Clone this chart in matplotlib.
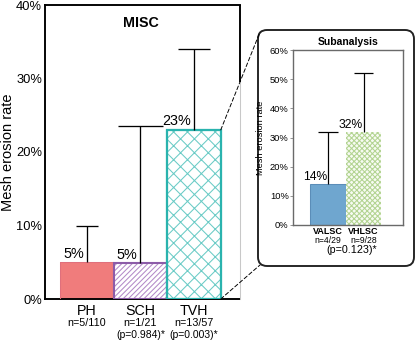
import matplotlib
matplotlib.use("Agg")
import matplotlib.pyplot as plt
from matplotlib.patches import FancyBboxPatch, ConnectionPatch
from matplotlib.ticker import FuncFormatter, MultipleLocator
import numpy as np

# ---------------- data ----------------
main_cats = ["PH", "SCH", "TVH"]
main_vals = [0.05, 0.049, 0.23]
main_err_top = [0.10, 0.235, 0.34]
main_val_labels = ["5%", "5%", "23%"]
main_n = ["n=5/110", "n=1/21", "n=13/57"]
main_p = ["", "(p=0.984)*", "(p=0.003)*"]

sub_cats = ["VALSC", "VHLSC"]
sub_vals = [0.14, 0.32]
sub_err_top = [0.32, 0.52]
sub_val_labels = ["14%", "32%"]
sub_n = ["n=4/29", "n=9/28"]
sub_p = "(p=0.123)*"

# ---------------- style ----------------
DPI = 125
plt.rcParams['font.family'] = ['Liberation Sans', 'DejaVu Sans']
plt.rcParams['hatch.linewidth'] = 0.6

fig = plt.figure(figsize=(416 / DPI, 340 / DPI), dpi=DPI)

pct = FuncFormatter(lambda v, p: f"{v*100:.0f}%")

# ---------------- main axes ----------------
ax = fig.add_axes([45 / 416, 41 / 340, 195 / 416, 294 / 340])
x = np.arange(len(main_cats))
face = ['#F07C7C', 'white', 'white']
hatch_col = ['#F07C7C', '#B38AC8', '#6ACBC6']
hatches = ['', '////////', 'xxx']
edge_col = ['#E0707C', '#8C5CA8', '#2AB3AE']
edge_lw = [0.6, 1.2, 1.3]

bars = ax.bar(x, main_vals, width=1.0, color=face, edgecolor=hatch_col, linewidth=0, zorder=2)
for b, h in zip(bars, hatches):
    b.set_hatch(h)
edges = ax.bar(x, main_vals, width=1.0, fill=False, edgecolor=edge_col, zorder=3)
for b, lw in zip(edges, edge_lw):
    b.set_linewidth(lw)

cap_w = [0.41, 0.83, 0.6]
ax.vlines(x, main_vals, main_err_top, color='black', lw=0.75, zorder=4)
ax.hlines(main_err_top, x - np.array(cap_w) / 2, x + np.array(cap_w) / 2,
          color='black', lw=0.75, zorder=4)

for xi, v, lab in zip(x, main_vals, main_val_labels):
    ax.text(xi - 0.06, v + 0.002, lab, ha='right', va='bottom', fontsize=8.3, zorder=5)

ax.set_xlim(-0.785, 2.86)
ax.set_ylim(0, 0.40)
ax.yaxis.set_major_locator(MultipleLocator(0.10))
ax.yaxis.set_major_formatter(pct)
ax.tick_params(axis='y', length=0, pad=1.7, labelsize=7.4)
ax.set_xticks([])
ax.set_ylabel("Mesh erosion rate", fontsize=8.4, labelpad=0.5)
for s in ['left', 'bottom', 'top']:
    ax.spines[s].set_linewidth(1.1)
ax.spines['right'].set_visible(False)
# right border: dark upper part, faint lower part
ax.plot([1, 1], [0.738, 1], transform=ax.transAxes, color='black', lw=1.1,
        clip_on=False, solid_capstyle='butt', zorder=6)
ax.plot([1, 1], [0, 0.738], transform=ax.transAxes, color='#c8c8c8', lw=0.6,
        clip_on=False, zorder=6)

ax.text(0.49, 0.94, "MISC", transform=ax.transAxes, ha='center', va='center',
        fontsize=8.2, fontweight='bold')

tr = ax.get_xaxis_transform()
for xi, c, n, p in zip(x, main_cats, main_n, main_p):
    ax.text(xi, -0.042, c, transform=tr, ha='center', va='center', fontsize=8.2)
    ax.text(xi, -0.080, n, transform=tr, ha='center', va='center', fontsize=6.2)
    if p:
        ax.text(xi, -0.121, p, transform=tr, ha='center', va='center', fontsize=6.0)

# ---------------- inset box ----------------
box = FancyBboxPatch((258 / DPI, 74 / DPI), 156 / DPI, 236 / DPI,
                     boxstyle=f"round,pad=0,rounding_size={9 / DPI}",
                     transform=fig.dpi_scale_trans, facecolor='white',
                     edgecolor='#222222', lw=1.1, zorder=1)
fig.patches.append(box)

# connectors
for yv, fy in [(main_vals[2], 308 / 340), (0, 75 / 340)]:
    con = ConnectionPatch(xyA=(2.5, yv), coordsA=ax.transData,
                          xyB=(260 / 416, fy), coordsB=fig.transFigure,
                          color='black', lw=0.55, linestyle=(0, (4, 2.5)), zorder=7)
    fig.add_artist(con)

# ---------------- inset axes ----------------
ax2 = fig.add_axes([293 / 416, 115 / 340, 110 / 416, 175 / 340], zorder=3)
xs = np.arange(len(sub_cats))
b1 = ax2.bar(xs, sub_vals, width=1.0, color=['#6FA6CF', '#F7FBF2'],
             edgecolor=['#5B8DB8', '#B3D492'], linewidth=0, zorder=2)
b1[1].set_hatch('xxxxxxxx')
b1[0].set_edgecolor('#5B8DB8')
b1[0].set_linewidth(0.6)

sub_cap = [0.55, 0.55]
ax2.vlines(xs, sub_vals, sub_err_top, color='black', lw=0.7, zorder=4)
ax2.hlines(sub_err_top, xs - np.array(sub_cap) / 2, xs + np.array(sub_cap) / 2,
           color='black', lw=0.7, zorder=4)
for xi, v, lab in zip(xs, sub_vals, sub_val_labels):
    ax2.text(xi - 0.03, v + 0.003, lab, ha='right', va='bottom', fontsize=7.0, zorder=5)

ax2.set_xlim(-0.99, 2.11)
ax2.set_ylim(0, 0.60)
ax2.yaxis.set_major_locator(MultipleLocator(0.10))
ax2.yaxis.set_major_formatter(pct)
ax2.tick_params(axis='y', length=1.5, width=0.5, color='#888888', pad=1, labelsize=5.4)
ax2.set_xticks([])
ax2.set_ylabel("Mesh erosion rate", fontsize=5.3, labelpad=2.5)
for s in ax2.spines.values():
    s.set_linewidth(0.8)
    s.set_color('#6a6a6a')
ax2.text(0.5, 1.046, "Subanalysis", transform=ax2.transAxes, ha='center', va='center',
         fontsize=6.0, fontweight='bold')
tr2 = ax2.get_xaxis_transform()
for xi, c, n in zip(xs, sub_cats, sub_n):
    ax2.text(xi, -0.036, c, transform=tr2, ha='center', va='center', fontsize=5.2,
             fontweight='bold')
    ax2.text(xi, -0.090, n, transform=tr2, ha='center', va='center', fontsize=5.0)
ax2.text(0.65, -0.145, sub_p, transform=tr2, ha='center', va='center', fontsize=6.2)

fig.savefig("out.png", dpi=DPI)
